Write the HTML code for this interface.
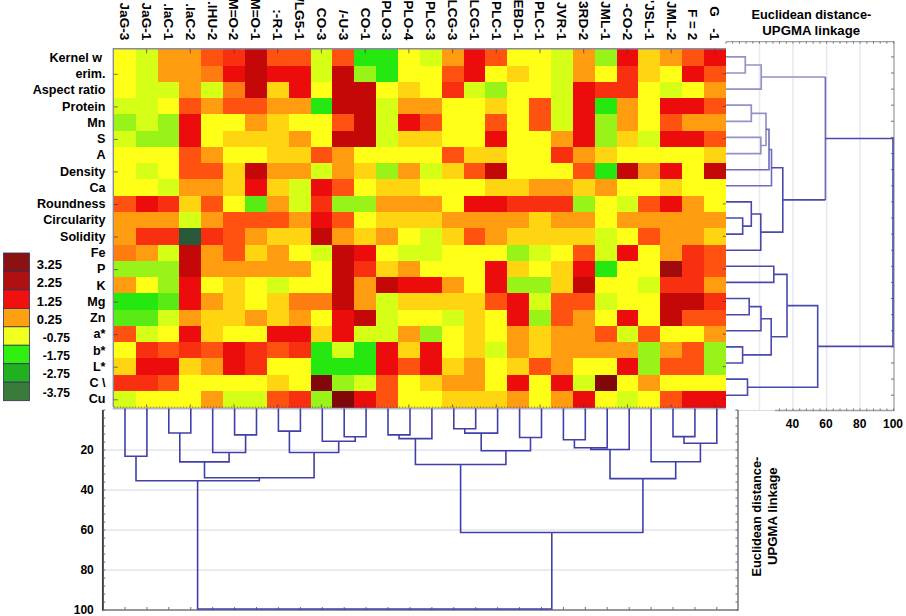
<!DOCTYPE html>
<html><head><meta charset="utf-8"><title>Heatmap</title>
<style>
html,body{margin:0;padding:0;background:#fff;}
body{width:906px;height:616px;overflow:hidden;}
svg{display:block;}
text{font-family:"Liberation Sans",sans-serif;font-weight:bold;fill:#000;}
</style></head><body>
<svg width="906" height="616" viewBox="0 0 906 616">
<rect x="0" y="0" width="906" height="616" fill="#ffffff"/>
<g shape-rendering="crispEdges">
<rect x="113.80" y="49.30" width="22.16" height="16.57" fill="#FFFF18"/><rect x="135.66" y="49.30" width="22.16" height="16.57" fill="#D6FF18"/><rect x="157.51" y="49.30" width="22.16" height="16.57" fill="#FF9C10"/><rect x="179.37" y="49.30" width="22.16" height="16.57" fill="#FF9C10"/><rect x="201.23" y="49.30" width="22.16" height="16.57" fill="#FF5210"/><rect x="223.09" y="49.30" width="22.16" height="16.57" fill="#F83010"/><rect x="244.94" y="49.30" width="22.16" height="16.57" fill="#C40808"/><rect x="266.80" y="49.30" width="22.16" height="16.57" fill="#FF5210"/><rect x="288.66" y="49.30" width="22.16" height="16.57" fill="#FF5210"/><rect x="310.51" y="49.30" width="22.16" height="16.57" fill="#D6FF18"/><rect x="332.37" y="49.30" width="22.16" height="16.57" fill="#FF5210"/><rect x="354.23" y="49.30" width="22.16" height="16.57" fill="#24E810"/><rect x="376.09" y="49.30" width="22.16" height="16.57" fill="#24E810"/><rect x="397.94" y="49.30" width="22.16" height="16.57" fill="#FFFF18"/><rect x="419.80" y="49.30" width="22.16" height="16.57" fill="#D6FF18"/><rect x="441.66" y="49.30" width="22.16" height="16.57" fill="#FF9C10"/><rect x="463.51" y="49.30" width="22.16" height="16.57" fill="#EC0C0C"/><rect x="485.37" y="49.30" width="22.16" height="16.57" fill="#FF5210"/><rect x="507.23" y="49.30" width="22.16" height="16.57" fill="#FFFF18"/><rect x="529.09" y="49.30" width="22.16" height="16.57" fill="#FFFF18"/><rect x="550.94" y="49.30" width="22.16" height="16.57" fill="#D6FF18"/><rect x="572.80" y="49.30" width="22.16" height="16.57" fill="#FF9C10"/><rect x="594.66" y="49.30" width="22.16" height="16.57" fill="#98F418"/><rect x="616.51" y="49.30" width="22.16" height="16.57" fill="#EC0C0C"/><rect x="638.37" y="49.30" width="22.16" height="16.57" fill="#FFD410"/><rect x="660.23" y="49.30" width="22.16" height="16.57" fill="#FF9C10"/><rect x="682.09" y="49.30" width="22.16" height="16.57" fill="#FF5210"/><rect x="703.94" y="49.30" width="22.16" height="16.57" fill="#EC0C0C"/>
<rect x="113.80" y="65.57" width="22.16" height="16.57" fill="#FFFF18"/><rect x="135.66" y="65.57" width="22.16" height="16.57" fill="#D6FF18"/><rect x="157.51" y="65.57" width="22.16" height="16.57" fill="#FF9C10"/><rect x="179.37" y="65.57" width="22.16" height="16.57" fill="#FF9C10"/><rect x="201.23" y="65.57" width="22.16" height="16.57" fill="#FF7C10"/><rect x="223.09" y="65.57" width="22.16" height="16.57" fill="#EC0C0C"/><rect x="244.94" y="65.57" width="22.16" height="16.57" fill="#C40808"/><rect x="266.80" y="65.57" width="22.16" height="16.57" fill="#EC0C0C"/><rect x="288.66" y="65.57" width="22.16" height="16.57" fill="#EC0C0C"/><rect x="310.51" y="65.57" width="22.16" height="16.57" fill="#D6FF18"/><rect x="332.37" y="65.57" width="22.16" height="16.57" fill="#C40808"/><rect x="354.23" y="65.57" width="22.16" height="16.57" fill="#98F418"/><rect x="376.09" y="65.57" width="22.16" height="16.57" fill="#24E810"/><rect x="397.94" y="65.57" width="22.16" height="16.57" fill="#FFFF18"/><rect x="419.80" y="65.57" width="22.16" height="16.57" fill="#FFFF18"/><rect x="441.66" y="65.57" width="22.16" height="16.57" fill="#FF5210"/><rect x="463.51" y="65.57" width="22.16" height="16.57" fill="#EC0C0C"/><rect x="485.37" y="65.57" width="22.16" height="16.57" fill="#FFFF18"/><rect x="507.23" y="65.57" width="22.16" height="16.57" fill="#FFD410"/><rect x="529.09" y="65.57" width="22.16" height="16.57" fill="#FFFF18"/><rect x="550.94" y="65.57" width="22.16" height="16.57" fill="#D6FF18"/><rect x="572.80" y="65.57" width="22.16" height="16.57" fill="#FF9C10"/><rect x="594.66" y="65.57" width="22.16" height="16.57" fill="#FFFF18"/><rect x="616.51" y="65.57" width="22.16" height="16.57" fill="#F83010"/><rect x="638.37" y="65.57" width="22.16" height="16.57" fill="#FFD410"/><rect x="660.23" y="65.57" width="22.16" height="16.57" fill="#FFFF18"/><rect x="682.09" y="65.57" width="22.16" height="16.57" fill="#EC0C0C"/><rect x="703.94" y="65.57" width="22.16" height="16.57" fill="#FF5210"/>
<rect x="113.80" y="81.85" width="22.16" height="16.57" fill="#FFFF18"/><rect x="135.66" y="81.85" width="22.16" height="16.57" fill="#D6FF18"/><rect x="157.51" y="81.85" width="22.16" height="16.57" fill="#D6FF18"/><rect x="179.37" y="81.85" width="22.16" height="16.57" fill="#FF9C10"/><rect x="201.23" y="81.85" width="22.16" height="16.57" fill="#D6FF18"/><rect x="223.09" y="81.85" width="22.16" height="16.57" fill="#FF7C10"/><rect x="244.94" y="81.85" width="22.16" height="16.57" fill="#C40808"/><rect x="266.80" y="81.85" width="22.16" height="16.57" fill="#FFD410"/><rect x="288.66" y="81.85" width="22.16" height="16.57" fill="#EC0C0C"/><rect x="310.51" y="81.85" width="22.16" height="16.57" fill="#FFFF18"/><rect x="332.37" y="81.85" width="22.16" height="16.57" fill="#C40808"/><rect x="354.23" y="81.85" width="22.16" height="16.57" fill="#C40808"/><rect x="376.09" y="81.85" width="22.16" height="16.57" fill="#FFFF18"/><rect x="397.94" y="81.85" width="22.16" height="16.57" fill="#FFD410"/><rect x="419.80" y="81.85" width="22.16" height="16.57" fill="#FFFF18"/><rect x="441.66" y="81.85" width="22.16" height="16.57" fill="#F83010"/><rect x="463.51" y="81.85" width="22.16" height="16.57" fill="#D6FF18"/><rect x="485.37" y="81.85" width="22.16" height="16.57" fill="#98F418"/><rect x="507.23" y="81.85" width="22.16" height="16.57" fill="#FFFF18"/><rect x="529.09" y="81.85" width="22.16" height="16.57" fill="#FFFF18"/><rect x="550.94" y="81.85" width="22.16" height="16.57" fill="#D6FF18"/><rect x="572.80" y="81.85" width="22.16" height="16.57" fill="#EC0C0C"/><rect x="594.66" y="81.85" width="22.16" height="16.57" fill="#F83010"/><rect x="616.51" y="81.85" width="22.16" height="16.57" fill="#F83010"/><rect x="638.37" y="81.85" width="22.16" height="16.57" fill="#FFFF18"/><rect x="660.23" y="81.85" width="22.16" height="16.57" fill="#D6FF18"/><rect x="682.09" y="81.85" width="22.16" height="16.57" fill="#FFFF18"/><rect x="703.94" y="81.85" width="22.16" height="16.57" fill="#FF9C10"/>
<rect x="113.80" y="98.12" width="22.16" height="16.57" fill="#D6FF18"/><rect x="135.66" y="98.12" width="22.16" height="16.57" fill="#D6FF18"/><rect x="157.51" y="98.12" width="22.16" height="16.57" fill="#FFFF18"/><rect x="179.37" y="98.12" width="22.16" height="16.57" fill="#FF5210"/><rect x="201.23" y="98.12" width="22.16" height="16.57" fill="#FF9C10"/><rect x="223.09" y="98.12" width="22.16" height="16.57" fill="#FF5210"/><rect x="244.94" y="98.12" width="22.16" height="16.57" fill="#FF5210"/><rect x="266.80" y="98.12" width="22.16" height="16.57" fill="#FF9C10"/><rect x="288.66" y="98.12" width="22.16" height="16.57" fill="#FF9C10"/><rect x="310.51" y="98.12" width="22.16" height="16.57" fill="#24E810"/><rect x="332.37" y="98.12" width="22.16" height="16.57" fill="#C40808"/><rect x="354.23" y="98.12" width="22.16" height="16.57" fill="#C40808"/><rect x="376.09" y="98.12" width="22.16" height="16.57" fill="#D6FF18"/><rect x="397.94" y="98.12" width="22.16" height="16.57" fill="#FF9C10"/><rect x="419.80" y="98.12" width="22.16" height="16.57" fill="#FF9C10"/><rect x="441.66" y="98.12" width="22.16" height="16.57" fill="#FFFF18"/><rect x="463.51" y="98.12" width="22.16" height="16.57" fill="#FFFF18"/><rect x="485.37" y="98.12" width="22.16" height="16.57" fill="#FFD410"/><rect x="507.23" y="98.12" width="22.16" height="16.57" fill="#FFFF18"/><rect x="529.09" y="98.12" width="22.16" height="16.57" fill="#FF5210"/><rect x="550.94" y="98.12" width="22.16" height="16.57" fill="#D6FF18"/><rect x="572.80" y="98.12" width="22.16" height="16.57" fill="#EC0C0C"/><rect x="594.66" y="98.12" width="22.16" height="16.57" fill="#24E810"/><rect x="616.51" y="98.12" width="22.16" height="16.57" fill="#FF9C10"/><rect x="638.37" y="98.12" width="22.16" height="16.57" fill="#FFFF18"/><rect x="660.23" y="98.12" width="22.16" height="16.57" fill="#EC0C0C"/><rect x="682.09" y="98.12" width="22.16" height="16.57" fill="#EC0C0C"/><rect x="703.94" y="98.12" width="22.16" height="16.57" fill="#FF5210"/>
<rect x="113.80" y="114.39" width="22.16" height="16.57" fill="#98F418"/><rect x="135.66" y="114.39" width="22.16" height="16.57" fill="#D6FF18"/><rect x="157.51" y="114.39" width="22.16" height="16.57" fill="#98F418"/><rect x="179.37" y="114.39" width="22.16" height="16.57" fill="#EC0C0C"/><rect x="201.23" y="114.39" width="22.16" height="16.57" fill="#FFFF18"/><rect x="223.09" y="114.39" width="22.16" height="16.57" fill="#FFFF18"/><rect x="244.94" y="114.39" width="22.16" height="16.57" fill="#FF9C10"/><rect x="266.80" y="114.39" width="22.16" height="16.57" fill="#FFD410"/><rect x="288.66" y="114.39" width="22.16" height="16.57" fill="#FFFF18"/><rect x="310.51" y="114.39" width="22.16" height="16.57" fill="#FFFF18"/><rect x="332.37" y="114.39" width="22.16" height="16.57" fill="#FF5210"/><rect x="354.23" y="114.39" width="22.16" height="16.57" fill="#C40808"/><rect x="376.09" y="114.39" width="22.16" height="16.57" fill="#D6FF18"/><rect x="397.94" y="114.39" width="22.16" height="16.57" fill="#EC0C0C"/><rect x="419.80" y="114.39" width="22.16" height="16.57" fill="#FF5210"/><rect x="441.66" y="114.39" width="22.16" height="16.57" fill="#FFFF18"/><rect x="463.51" y="114.39" width="22.16" height="16.57" fill="#FFFF18"/><rect x="485.37" y="114.39" width="22.16" height="16.57" fill="#FF5210"/><rect x="507.23" y="114.39" width="22.16" height="16.57" fill="#FFFF18"/><rect x="529.09" y="114.39" width="22.16" height="16.57" fill="#FF5210"/><rect x="550.94" y="114.39" width="22.16" height="16.57" fill="#D6FF18"/><rect x="572.80" y="114.39" width="22.16" height="16.57" fill="#EC0C0C"/><rect x="594.66" y="114.39" width="22.16" height="16.57" fill="#98F418"/><rect x="616.51" y="114.39" width="22.16" height="16.57" fill="#FF9C10"/><rect x="638.37" y="114.39" width="22.16" height="16.57" fill="#FFFF18"/><rect x="660.23" y="114.39" width="22.16" height="16.57" fill="#FF5210"/><rect x="682.09" y="114.39" width="22.16" height="16.57" fill="#FF9C10"/><rect x="703.94" y="114.39" width="22.16" height="16.57" fill="#FF9C10"/>
<rect x="113.80" y="130.66" width="22.16" height="16.57" fill="#D6FF18"/><rect x="135.66" y="130.66" width="22.16" height="16.57" fill="#98F418"/><rect x="157.51" y="130.66" width="22.16" height="16.57" fill="#98F418"/><rect x="179.37" y="130.66" width="22.16" height="16.57" fill="#EC0C0C"/><rect x="201.23" y="130.66" width="22.16" height="16.57" fill="#FFFF18"/><rect x="223.09" y="130.66" width="22.16" height="16.57" fill="#FFD410"/><rect x="244.94" y="130.66" width="22.16" height="16.57" fill="#FFD410"/><rect x="266.80" y="130.66" width="22.16" height="16.57" fill="#FFD410"/><rect x="288.66" y="130.66" width="22.16" height="16.57" fill="#FF9C10"/><rect x="310.51" y="130.66" width="22.16" height="16.57" fill="#FFFF18"/><rect x="332.37" y="130.66" width="22.16" height="16.57" fill="#C40808"/><rect x="354.23" y="130.66" width="22.16" height="16.57" fill="#C40808"/><rect x="376.09" y="130.66" width="22.16" height="16.57" fill="#D6FF18"/><rect x="397.94" y="130.66" width="22.16" height="16.57" fill="#FFD410"/><rect x="419.80" y="130.66" width="22.16" height="16.57" fill="#FFD410"/><rect x="441.66" y="130.66" width="22.16" height="16.57" fill="#FFFF18"/><rect x="463.51" y="130.66" width="22.16" height="16.57" fill="#FFFF18"/><rect x="485.37" y="130.66" width="22.16" height="16.57" fill="#EC0C0C"/><rect x="507.23" y="130.66" width="22.16" height="16.57" fill="#FFFF18"/><rect x="529.09" y="130.66" width="22.16" height="16.57" fill="#FFFF18"/><rect x="550.94" y="130.66" width="22.16" height="16.57" fill="#FF9C10"/><rect x="572.80" y="130.66" width="22.16" height="16.57" fill="#EC0C0C"/><rect x="594.66" y="130.66" width="22.16" height="16.57" fill="#98F418"/><rect x="616.51" y="130.66" width="22.16" height="16.57" fill="#FFD410"/><rect x="638.37" y="130.66" width="22.16" height="16.57" fill="#D6FF18"/><rect x="660.23" y="130.66" width="22.16" height="16.57" fill="#EC0C0C"/><rect x="682.09" y="130.66" width="22.16" height="16.57" fill="#EC0C0C"/><rect x="703.94" y="130.66" width="22.16" height="16.57" fill="#FF5210"/>
<rect x="113.80" y="146.94" width="22.16" height="16.57" fill="#FFFF18"/><rect x="135.66" y="146.94" width="22.16" height="16.57" fill="#FFFF18"/><rect x="157.51" y="146.94" width="22.16" height="16.57" fill="#FFFF18"/><rect x="179.37" y="146.94" width="22.16" height="16.57" fill="#FF5210"/><rect x="201.23" y="146.94" width="22.16" height="16.57" fill="#FF9C10"/><rect x="223.09" y="146.94" width="22.16" height="16.57" fill="#FFFF18"/><rect x="244.94" y="146.94" width="22.16" height="16.57" fill="#FFFF18"/><rect x="266.80" y="146.94" width="22.16" height="16.57" fill="#FFD410"/><rect x="288.66" y="146.94" width="22.16" height="16.57" fill="#FFD410"/><rect x="310.51" y="146.94" width="22.16" height="16.57" fill="#FF5210"/><rect x="332.37" y="146.94" width="22.16" height="16.57" fill="#FF9C10"/><rect x="354.23" y="146.94" width="22.16" height="16.57" fill="#FFFF18"/><rect x="376.09" y="146.94" width="22.16" height="16.57" fill="#FFFF18"/><rect x="397.94" y="146.94" width="22.16" height="16.57" fill="#FFFF18"/><rect x="419.80" y="146.94" width="22.16" height="16.57" fill="#FFFF18"/><rect x="441.66" y="146.94" width="22.16" height="16.57" fill="#FF5210"/><rect x="463.51" y="146.94" width="22.16" height="16.57" fill="#FFD410"/><rect x="485.37" y="146.94" width="22.16" height="16.57" fill="#FFD410"/><rect x="507.23" y="146.94" width="22.16" height="16.57" fill="#FFFF18"/><rect x="529.09" y="146.94" width="22.16" height="16.57" fill="#FFFF18"/><rect x="550.94" y="146.94" width="22.16" height="16.57" fill="#F83010"/><rect x="572.80" y="146.94" width="22.16" height="16.57" fill="#FF9C10"/><rect x="594.66" y="146.94" width="22.16" height="16.57" fill="#FFD410"/><rect x="616.51" y="146.94" width="22.16" height="16.57" fill="#FFFF18"/><rect x="638.37" y="146.94" width="22.16" height="16.57" fill="#FFFF18"/><rect x="660.23" y="146.94" width="22.16" height="16.57" fill="#FFFF18"/><rect x="682.09" y="146.94" width="22.16" height="16.57" fill="#FFFF18"/><rect x="703.94" y="146.94" width="22.16" height="16.57" fill="#FFD410"/>
<rect x="113.80" y="163.21" width="22.16" height="16.57" fill="#FFFF18"/><rect x="135.66" y="163.21" width="22.16" height="16.57" fill="#D6FF18"/><rect x="157.51" y="163.21" width="22.16" height="16.57" fill="#FFFF18"/><rect x="179.37" y="163.21" width="22.16" height="16.57" fill="#FF5210"/><rect x="201.23" y="163.21" width="22.16" height="16.57" fill="#FF5210"/><rect x="223.09" y="163.21" width="22.16" height="16.57" fill="#FFD410"/><rect x="244.94" y="163.21" width="22.16" height="16.57" fill="#C40808"/><rect x="266.80" y="163.21" width="22.16" height="16.57" fill="#FF9C10"/><rect x="288.66" y="163.21" width="22.16" height="16.57" fill="#FF9C10"/><rect x="310.51" y="163.21" width="22.16" height="16.57" fill="#D6FF18"/><rect x="332.37" y="163.21" width="22.16" height="16.57" fill="#FF9C10"/><rect x="354.23" y="163.21" width="22.16" height="16.57" fill="#FFD410"/><rect x="376.09" y="163.21" width="22.16" height="16.57" fill="#98F418"/><rect x="397.94" y="163.21" width="22.16" height="16.57" fill="#FF9C10"/><rect x="419.80" y="163.21" width="22.16" height="16.57" fill="#D6FF18"/><rect x="441.66" y="163.21" width="22.16" height="16.57" fill="#FFD410"/><rect x="463.51" y="163.21" width="22.16" height="16.57" fill="#FF5210"/><rect x="485.37" y="163.21" width="22.16" height="16.57" fill="#C40808"/><rect x="507.23" y="163.21" width="22.16" height="16.57" fill="#FFFF18"/><rect x="529.09" y="163.21" width="22.16" height="16.57" fill="#FFFF18"/><rect x="550.94" y="163.21" width="22.16" height="16.57" fill="#FFFF18"/><rect x="572.80" y="163.21" width="22.16" height="16.57" fill="#FF5210"/><rect x="594.66" y="163.21" width="22.16" height="16.57" fill="#24E810"/><rect x="616.51" y="163.21" width="22.16" height="16.57" fill="#C40808"/><rect x="638.37" y="163.21" width="22.16" height="16.57" fill="#FF9C10"/><rect x="660.23" y="163.21" width="22.16" height="16.57" fill="#EC0C0C"/><rect x="682.09" y="163.21" width="22.16" height="16.57" fill="#FFFF18"/><rect x="703.94" y="163.21" width="22.16" height="16.57" fill="#C40808"/>
<rect x="113.80" y="179.48" width="22.16" height="16.57" fill="#FFFF18"/><rect x="135.66" y="179.48" width="22.16" height="16.57" fill="#FFFF18"/><rect x="157.51" y="179.48" width="22.16" height="16.57" fill="#D6FF18"/><rect x="179.37" y="179.48" width="22.16" height="16.57" fill="#FF9C10"/><rect x="201.23" y="179.48" width="22.16" height="16.57" fill="#FF9C10"/><rect x="223.09" y="179.48" width="22.16" height="16.57" fill="#FFD410"/><rect x="244.94" y="179.48" width="22.16" height="16.57" fill="#EC0C0C"/><rect x="266.80" y="179.48" width="22.16" height="16.57" fill="#FFD410"/><rect x="288.66" y="179.48" width="22.16" height="16.57" fill="#D6FF18"/><rect x="310.51" y="179.48" width="22.16" height="16.57" fill="#EC0C0C"/><rect x="332.37" y="179.48" width="22.16" height="16.57" fill="#FF5210"/><rect x="354.23" y="179.48" width="22.16" height="16.57" fill="#FFFF18"/><rect x="376.09" y="179.48" width="22.16" height="16.57" fill="#FFD410"/><rect x="397.94" y="179.48" width="22.16" height="16.57" fill="#FFD410"/><rect x="419.80" y="179.48" width="22.16" height="16.57" fill="#FFFF18"/><rect x="441.66" y="179.48" width="22.16" height="16.57" fill="#FFFF18"/><rect x="463.51" y="179.48" width="22.16" height="16.57" fill="#FFFF18"/><rect x="485.37" y="179.48" width="22.16" height="16.57" fill="#FFD410"/><rect x="507.23" y="179.48" width="22.16" height="16.57" fill="#FFD410"/><rect x="529.09" y="179.48" width="22.16" height="16.57" fill="#FF9C10"/><rect x="550.94" y="179.48" width="22.16" height="16.57" fill="#FF9C10"/><rect x="572.80" y="179.48" width="22.16" height="16.57" fill="#FFD410"/><rect x="594.66" y="179.48" width="22.16" height="16.57" fill="#FF9C10"/><rect x="616.51" y="179.48" width="22.16" height="16.57" fill="#FFFF18"/><rect x="638.37" y="179.48" width="22.16" height="16.57" fill="#FFFF18"/><rect x="660.23" y="179.48" width="22.16" height="16.57" fill="#FFD410"/><rect x="682.09" y="179.48" width="22.16" height="16.57" fill="#FFFF18"/><rect x="703.94" y="179.48" width="22.16" height="16.57" fill="#FFFF18"/>
<rect x="113.80" y="195.75" width="22.16" height="16.57" fill="#FF5210"/><rect x="135.66" y="195.75" width="22.16" height="16.57" fill="#EC0C0C"/><rect x="157.51" y="195.75" width="22.16" height="16.57" fill="#F83010"/><rect x="179.37" y="195.75" width="22.16" height="16.57" fill="#FFD410"/><rect x="201.23" y="195.75" width="22.16" height="16.57" fill="#FF5210"/><rect x="223.09" y="195.75" width="22.16" height="16.57" fill="#FFFF18"/><rect x="244.94" y="195.75" width="22.16" height="16.57" fill="#58EC14"/><rect x="266.80" y="195.75" width="22.16" height="16.57" fill="#FF9C10"/><rect x="288.66" y="195.75" width="22.16" height="16.57" fill="#D6FF18"/><rect x="310.51" y="195.75" width="22.16" height="16.57" fill="#F83010"/><rect x="332.37" y="195.75" width="22.16" height="16.57" fill="#98F418"/><rect x="354.23" y="195.75" width="22.16" height="16.57" fill="#98F418"/><rect x="376.09" y="195.75" width="22.16" height="16.57" fill="#FF9C10"/><rect x="397.94" y="195.75" width="22.16" height="16.57" fill="#FF9C10"/><rect x="419.80" y="195.75" width="22.16" height="16.57" fill="#FF9C10"/><rect x="441.66" y="195.75" width="22.16" height="16.57" fill="#FFFF18"/><rect x="463.51" y="195.75" width="22.16" height="16.57" fill="#EC0C0C"/><rect x="485.37" y="195.75" width="22.16" height="16.57" fill="#EC0C0C"/><rect x="507.23" y="195.75" width="22.16" height="16.57" fill="#F83010"/><rect x="529.09" y="195.75" width="22.16" height="16.57" fill="#F83010"/><rect x="550.94" y="195.75" width="22.16" height="16.57" fill="#F83010"/><rect x="572.80" y="195.75" width="22.16" height="16.57" fill="#98F418"/><rect x="594.66" y="195.75" width="22.16" height="16.57" fill="#FFFF18"/><rect x="616.51" y="195.75" width="22.16" height="16.57" fill="#D6FF18"/><rect x="638.37" y="195.75" width="22.16" height="16.57" fill="#FF5210"/><rect x="660.23" y="195.75" width="22.16" height="16.57" fill="#EC0C0C"/><rect x="682.09" y="195.75" width="22.16" height="16.57" fill="#FF9C10"/><rect x="703.94" y="195.75" width="22.16" height="16.57" fill="#FFFF18"/>
<rect x="113.80" y="212.03" width="22.16" height="16.57" fill="#FF9C10"/><rect x="135.66" y="212.03" width="22.16" height="16.57" fill="#FF9C10"/><rect x="157.51" y="212.03" width="22.16" height="16.57" fill="#FF9C10"/><rect x="179.37" y="212.03" width="22.16" height="16.57" fill="#D6FF18"/><rect x="201.23" y="212.03" width="22.16" height="16.57" fill="#FF9C10"/><rect x="223.09" y="212.03" width="22.16" height="16.57" fill="#FF5210"/><rect x="244.94" y="212.03" width="22.16" height="16.57" fill="#FF5210"/><rect x="266.80" y="212.03" width="22.16" height="16.57" fill="#FF5210"/><rect x="288.66" y="212.03" width="22.16" height="16.57" fill="#FF9C10"/><rect x="310.51" y="212.03" width="22.16" height="16.57" fill="#EC0C0C"/><rect x="332.37" y="212.03" width="22.16" height="16.57" fill="#FF5210"/><rect x="354.23" y="212.03" width="22.16" height="16.57" fill="#FFFF18"/><rect x="376.09" y="212.03" width="22.16" height="16.57" fill="#FFD410"/><rect x="397.94" y="212.03" width="22.16" height="16.57" fill="#FFD410"/><rect x="419.80" y="212.03" width="22.16" height="16.57" fill="#FFD410"/><rect x="441.66" y="212.03" width="22.16" height="16.57" fill="#FF9C10"/><rect x="463.51" y="212.03" width="22.16" height="16.57" fill="#FF9C10"/><rect x="485.37" y="212.03" width="22.16" height="16.57" fill="#FF9C10"/><rect x="507.23" y="212.03" width="22.16" height="16.57" fill="#FF9C10"/><rect x="529.09" y="212.03" width="22.16" height="16.57" fill="#FFD410"/><rect x="550.94" y="212.03" width="22.16" height="16.57" fill="#FF9C10"/><rect x="572.80" y="212.03" width="22.16" height="16.57" fill="#FF9C10"/><rect x="594.66" y="212.03" width="22.16" height="16.57" fill="#FFFF18"/><rect x="616.51" y="212.03" width="22.16" height="16.57" fill="#FF9C10"/><rect x="638.37" y="212.03" width="22.16" height="16.57" fill="#FF9C10"/><rect x="660.23" y="212.03" width="22.16" height="16.57" fill="#FF9C10"/><rect x="682.09" y="212.03" width="22.16" height="16.57" fill="#FF9C10"/><rect x="703.94" y="212.03" width="22.16" height="16.57" fill="#FF9C10"/>
<rect x="113.80" y="228.30" width="22.16" height="16.57" fill="#FF9C10"/><rect x="135.66" y="228.30" width="22.16" height="16.57" fill="#F83010"/><rect x="157.51" y="228.30" width="22.16" height="16.57" fill="#F83010"/><rect x="179.37" y="228.30" width="22.16" height="16.57" fill="#285838"/><rect x="201.23" y="228.30" width="22.16" height="16.57" fill="#F83010"/><rect x="223.09" y="228.30" width="22.16" height="16.57" fill="#FF5210"/><rect x="244.94" y="228.30" width="22.16" height="16.57" fill="#FF9C10"/><rect x="266.80" y="228.30" width="22.16" height="16.57" fill="#FFD410"/><rect x="288.66" y="228.30" width="22.16" height="16.57" fill="#FFD410"/><rect x="310.51" y="228.30" width="22.16" height="16.57" fill="#C40808"/><rect x="332.37" y="228.30" width="22.16" height="16.57" fill="#FF9C10"/><rect x="354.23" y="228.30" width="22.16" height="16.57" fill="#FFD410"/><rect x="376.09" y="228.30" width="22.16" height="16.57" fill="#FF9C10"/><rect x="397.94" y="228.30" width="22.16" height="16.57" fill="#FFFF18"/><rect x="419.80" y="228.30" width="22.16" height="16.57" fill="#D6FF18"/><rect x="441.66" y="228.30" width="22.16" height="16.57" fill="#FFD410"/><rect x="463.51" y="228.30" width="22.16" height="16.57" fill="#FF5210"/><rect x="485.37" y="228.30" width="22.16" height="16.57" fill="#FF9C10"/><rect x="507.23" y="228.30" width="22.16" height="16.57" fill="#FFD410"/><rect x="529.09" y="228.30" width="22.16" height="16.57" fill="#FFD410"/><rect x="550.94" y="228.30" width="22.16" height="16.57" fill="#FFD410"/><rect x="572.80" y="228.30" width="22.16" height="16.57" fill="#FFD410"/><rect x="594.66" y="228.30" width="22.16" height="16.57" fill="#D6FF18"/><rect x="616.51" y="228.30" width="22.16" height="16.57" fill="#FFFF18"/><rect x="638.37" y="228.30" width="22.16" height="16.57" fill="#FF5210"/><rect x="660.23" y="228.30" width="22.16" height="16.57" fill="#FF9C10"/><rect x="682.09" y="228.30" width="22.16" height="16.57" fill="#FF9C10"/><rect x="703.94" y="228.30" width="22.16" height="16.57" fill="#FFD410"/>
<rect x="113.80" y="244.57" width="22.16" height="16.57" fill="#FF7C10"/><rect x="135.66" y="244.57" width="22.16" height="16.57" fill="#FF9C10"/><rect x="157.51" y="244.57" width="22.16" height="16.57" fill="#D6FF18"/><rect x="179.37" y="244.57" width="22.16" height="16.57" fill="#C40808"/><rect x="201.23" y="244.57" width="22.16" height="16.57" fill="#FF9C10"/><rect x="223.09" y="244.57" width="22.16" height="16.57" fill="#FF5210"/><rect x="244.94" y="244.57" width="22.16" height="16.57" fill="#FFD410"/><rect x="266.80" y="244.57" width="22.16" height="16.57" fill="#FF9C10"/><rect x="288.66" y="244.57" width="22.16" height="16.57" fill="#FFFF18"/><rect x="310.51" y="244.57" width="22.16" height="16.57" fill="#D6FF18"/><rect x="332.37" y="244.57" width="22.16" height="16.57" fill="#C40808"/><rect x="354.23" y="244.57" width="22.16" height="16.57" fill="#EC0C0C"/><rect x="376.09" y="244.57" width="22.16" height="16.57" fill="#FFFF18"/><rect x="397.94" y="244.57" width="22.16" height="16.57" fill="#D6FF18"/><rect x="419.80" y="244.57" width="22.16" height="16.57" fill="#D6FF18"/><rect x="441.66" y="244.57" width="22.16" height="16.57" fill="#FFFF18"/><rect x="463.51" y="244.57" width="22.16" height="16.57" fill="#FFFF18"/><rect x="485.37" y="244.57" width="22.16" height="16.57" fill="#FFFF18"/><rect x="507.23" y="244.57" width="22.16" height="16.57" fill="#98F418"/><rect x="529.09" y="244.57" width="22.16" height="16.57" fill="#D6FF18"/><rect x="550.94" y="244.57" width="22.16" height="16.57" fill="#FFFF18"/><rect x="572.80" y="244.57" width="22.16" height="16.57" fill="#FF5210"/><rect x="594.66" y="244.57" width="22.16" height="16.57" fill="#D6FF18"/><rect x="616.51" y="244.57" width="22.16" height="16.57" fill="#EC0C0C"/><rect x="638.37" y="244.57" width="22.16" height="16.57" fill="#FFFF18"/><rect x="660.23" y="244.57" width="22.16" height="16.57" fill="#FF9C10"/><rect x="682.09" y="244.57" width="22.16" height="16.57" fill="#F83010"/><rect x="703.94" y="244.57" width="22.16" height="16.57" fill="#FF5210"/>
<rect x="113.80" y="260.85" width="22.16" height="16.57" fill="#98F418"/><rect x="135.66" y="260.85" width="22.16" height="16.57" fill="#98F418"/><rect x="157.51" y="260.85" width="22.16" height="16.57" fill="#98F418"/><rect x="179.37" y="260.85" width="22.16" height="16.57" fill="#C40808"/><rect x="201.23" y="260.85" width="22.16" height="16.57" fill="#FF9C10"/><rect x="223.09" y="260.85" width="22.16" height="16.57" fill="#FF9C10"/><rect x="244.94" y="260.85" width="22.16" height="16.57" fill="#FF9C10"/><rect x="266.80" y="260.85" width="22.16" height="16.57" fill="#FF9C10"/><rect x="288.66" y="260.85" width="22.16" height="16.57" fill="#FF9C10"/><rect x="310.51" y="260.85" width="22.16" height="16.57" fill="#FFFF18"/><rect x="332.37" y="260.85" width="22.16" height="16.57" fill="#C40808"/><rect x="354.23" y="260.85" width="22.16" height="16.57" fill="#F83010"/><rect x="376.09" y="260.85" width="22.16" height="16.57" fill="#FFD410"/><rect x="397.94" y="260.85" width="22.16" height="16.57" fill="#FF9C10"/><rect x="419.80" y="260.85" width="22.16" height="16.57" fill="#FFFF18"/><rect x="441.66" y="260.85" width="22.16" height="16.57" fill="#FFFF18"/><rect x="463.51" y="260.85" width="22.16" height="16.57" fill="#FFFF18"/><rect x="485.37" y="260.85" width="22.16" height="16.57" fill="#EC0C0C"/><rect x="507.23" y="260.85" width="22.16" height="16.57" fill="#FFD410"/><rect x="529.09" y="260.85" width="22.16" height="16.57" fill="#FFFF18"/><rect x="550.94" y="260.85" width="22.16" height="16.57" fill="#FFD410"/><rect x="572.80" y="260.85" width="22.16" height="16.57" fill="#EC0C0C"/><rect x="594.66" y="260.85" width="22.16" height="16.57" fill="#24E810"/><rect x="616.51" y="260.85" width="22.16" height="16.57" fill="#FFFF18"/><rect x="638.37" y="260.85" width="22.16" height="16.57" fill="#FFFF18"/><rect x="660.23" y="260.85" width="22.16" height="16.57" fill="#A00C0C"/><rect x="682.09" y="260.85" width="22.16" height="16.57" fill="#F83010"/><rect x="703.94" y="260.85" width="22.16" height="16.57" fill="#FF5210"/>
<rect x="113.80" y="277.12" width="22.16" height="16.57" fill="#FF9C10"/><rect x="135.66" y="277.12" width="22.16" height="16.57" fill="#FFFF18"/><rect x="157.51" y="277.12" width="22.16" height="16.57" fill="#98F418"/><rect x="179.37" y="277.12" width="22.16" height="16.57" fill="#EC0C0C"/><rect x="201.23" y="277.12" width="22.16" height="16.57" fill="#FFFF18"/><rect x="223.09" y="277.12" width="22.16" height="16.57" fill="#FFD410"/><rect x="244.94" y="277.12" width="22.16" height="16.57" fill="#FFFF18"/><rect x="266.80" y="277.12" width="22.16" height="16.57" fill="#D6FF18"/><rect x="288.66" y="277.12" width="22.16" height="16.57" fill="#FFFF18"/><rect x="310.51" y="277.12" width="22.16" height="16.57" fill="#FFFF18"/><rect x="332.37" y="277.12" width="22.16" height="16.57" fill="#C40808"/><rect x="354.23" y="277.12" width="22.16" height="16.57" fill="#FF9C10"/><rect x="376.09" y="277.12" width="22.16" height="16.57" fill="#C40808"/><rect x="397.94" y="277.12" width="22.16" height="16.57" fill="#EC0C0C"/><rect x="419.80" y="277.12" width="22.16" height="16.57" fill="#EC0C0C"/><rect x="441.66" y="277.12" width="22.16" height="16.57" fill="#FF9C10"/><rect x="463.51" y="277.12" width="22.16" height="16.57" fill="#FFFF18"/><rect x="485.37" y="277.12" width="22.16" height="16.57" fill="#EC0C0C"/><rect x="507.23" y="277.12" width="22.16" height="16.57" fill="#98F418"/><rect x="529.09" y="277.12" width="22.16" height="16.57" fill="#98F418"/><rect x="550.94" y="277.12" width="22.16" height="16.57" fill="#FFD410"/><rect x="572.80" y="277.12" width="22.16" height="16.57" fill="#C40808"/><rect x="594.66" y="277.12" width="22.16" height="16.57" fill="#FFFF18"/><rect x="616.51" y="277.12" width="22.16" height="16.57" fill="#FFFF18"/><rect x="638.37" y="277.12" width="22.16" height="16.57" fill="#D6FF18"/><rect x="660.23" y="277.12" width="22.16" height="16.57" fill="#F83010"/><rect x="682.09" y="277.12" width="22.16" height="16.57" fill="#F83010"/><rect x="703.94" y="277.12" width="22.16" height="16.57" fill="#FF9C10"/>
<rect x="113.80" y="293.39" width="22.16" height="16.57" fill="#24E810"/><rect x="135.66" y="293.39" width="22.16" height="16.57" fill="#24E810"/><rect x="157.51" y="293.39" width="22.16" height="16.57" fill="#58EC14"/><rect x="179.37" y="293.39" width="22.16" height="16.57" fill="#EC0C0C"/><rect x="201.23" y="293.39" width="22.16" height="16.57" fill="#FF9C10"/><rect x="223.09" y="293.39" width="22.16" height="16.57" fill="#FFD410"/><rect x="244.94" y="293.39" width="22.16" height="16.57" fill="#FFFF18"/><rect x="266.80" y="293.39" width="22.16" height="16.57" fill="#FFD410"/><rect x="288.66" y="293.39" width="22.16" height="16.57" fill="#FF7C10"/><rect x="310.51" y="293.39" width="22.16" height="16.57" fill="#FF7C10"/><rect x="332.37" y="293.39" width="22.16" height="16.57" fill="#C40808"/><rect x="354.23" y="293.39" width="22.16" height="16.57" fill="#FF9C10"/><rect x="376.09" y="293.39" width="22.16" height="16.57" fill="#D6FF18"/><rect x="397.94" y="293.39" width="22.16" height="16.57" fill="#FFD410"/><rect x="419.80" y="293.39" width="22.16" height="16.57" fill="#FFD410"/><rect x="441.66" y="293.39" width="22.16" height="16.57" fill="#FFD410"/><rect x="463.51" y="293.39" width="22.16" height="16.57" fill="#FFD410"/><rect x="485.37" y="293.39" width="22.16" height="16.57" fill="#FF5210"/><rect x="507.23" y="293.39" width="22.16" height="16.57" fill="#EC0C0C"/><rect x="529.09" y="293.39" width="22.16" height="16.57" fill="#D6FF18"/><rect x="550.94" y="293.39" width="22.16" height="16.57" fill="#FF5210"/><rect x="572.80" y="293.39" width="22.16" height="16.57" fill="#FF5210"/><rect x="594.66" y="293.39" width="22.16" height="16.57" fill="#D6FF18"/><rect x="616.51" y="293.39" width="22.16" height="16.57" fill="#FFFF18"/><rect x="638.37" y="293.39" width="22.16" height="16.57" fill="#FFFF18"/><rect x="660.23" y="293.39" width="22.16" height="16.57" fill="#C40808"/><rect x="682.09" y="293.39" width="22.16" height="16.57" fill="#C40808"/><rect x="703.94" y="293.39" width="22.16" height="16.57" fill="#F83010"/>
<rect x="113.80" y="309.66" width="22.16" height="16.57" fill="#58EC14"/><rect x="135.66" y="309.66" width="22.16" height="16.57" fill="#58EC14"/><rect x="157.51" y="309.66" width="22.16" height="16.57" fill="#D6FF18"/><rect x="179.37" y="309.66" width="22.16" height="16.57" fill="#FF9C10"/><rect x="201.23" y="309.66" width="22.16" height="16.57" fill="#FFD410"/><rect x="223.09" y="309.66" width="22.16" height="16.57" fill="#FFD410"/><rect x="244.94" y="309.66" width="22.16" height="16.57" fill="#FF9C10"/><rect x="266.80" y="309.66" width="22.16" height="16.57" fill="#FFD410"/><rect x="288.66" y="309.66" width="22.16" height="16.57" fill="#FF9C10"/><rect x="310.51" y="309.66" width="22.16" height="16.57" fill="#FFFF18"/><rect x="332.37" y="309.66" width="22.16" height="16.57" fill="#EC0C0C"/><rect x="354.23" y="309.66" width="22.16" height="16.57" fill="#C40808"/><rect x="376.09" y="309.66" width="22.16" height="16.57" fill="#D6FF18"/><rect x="397.94" y="309.66" width="22.16" height="16.57" fill="#FFFF18"/><rect x="419.80" y="309.66" width="22.16" height="16.57" fill="#FFFF18"/><rect x="441.66" y="309.66" width="22.16" height="16.57" fill="#D6FF18"/><rect x="463.51" y="309.66" width="22.16" height="16.57" fill="#FFD410"/><rect x="485.37" y="309.66" width="22.16" height="16.57" fill="#FFFF18"/><rect x="507.23" y="309.66" width="22.16" height="16.57" fill="#EC0C0C"/><rect x="529.09" y="309.66" width="22.16" height="16.57" fill="#98F418"/><rect x="550.94" y="309.66" width="22.16" height="16.57" fill="#FF5210"/><rect x="572.80" y="309.66" width="22.16" height="16.57" fill="#FF9C10"/><rect x="594.66" y="309.66" width="22.16" height="16.57" fill="#FFFF18"/><rect x="616.51" y="309.66" width="22.16" height="16.57" fill="#EC0C0C"/><rect x="638.37" y="309.66" width="22.16" height="16.57" fill="#FFFF18"/><rect x="660.23" y="309.66" width="22.16" height="16.57" fill="#C40808"/><rect x="682.09" y="309.66" width="22.16" height="16.57" fill="#FF5210"/><rect x="703.94" y="309.66" width="22.16" height="16.57" fill="#FF5210"/>
<rect x="113.80" y="325.94" width="22.16" height="16.57" fill="#FF5210"/><rect x="135.66" y="325.94" width="22.16" height="16.57" fill="#D6FF18"/><rect x="157.51" y="325.94" width="22.16" height="16.57" fill="#FFFF18"/><rect x="179.37" y="325.94" width="22.16" height="16.57" fill="#EC0C0C"/><rect x="201.23" y="325.94" width="22.16" height="16.57" fill="#FFD410"/><rect x="223.09" y="325.94" width="22.16" height="16.57" fill="#FFFF18"/><rect x="244.94" y="325.94" width="22.16" height="16.57" fill="#FFFF18"/><rect x="266.80" y="325.94" width="22.16" height="16.57" fill="#EC0C0C"/><rect x="288.66" y="325.94" width="22.16" height="16.57" fill="#EC0C0C"/><rect x="310.51" y="325.94" width="22.16" height="16.57" fill="#FFD410"/><rect x="332.37" y="325.94" width="22.16" height="16.57" fill="#EC0C0C"/><rect x="354.23" y="325.94" width="22.16" height="16.57" fill="#D6FF18"/><rect x="376.09" y="325.94" width="22.16" height="16.57" fill="#D6FF18"/><rect x="397.94" y="325.94" width="22.16" height="16.57" fill="#FF9C10"/><rect x="419.80" y="325.94" width="22.16" height="16.57" fill="#98F418"/><rect x="441.66" y="325.94" width="22.16" height="16.57" fill="#FFFF18"/><rect x="463.51" y="325.94" width="22.16" height="16.57" fill="#FFD410"/><rect x="485.37" y="325.94" width="22.16" height="16.57" fill="#FFFF18"/><rect x="507.23" y="325.94" width="22.16" height="16.57" fill="#FF9C10"/><rect x="529.09" y="325.94" width="22.16" height="16.57" fill="#FFD410"/><rect x="550.94" y="325.94" width="22.16" height="16.57" fill="#FF9C10"/><rect x="572.80" y="325.94" width="22.16" height="16.57" fill="#FF9C10"/><rect x="594.66" y="325.94" width="22.16" height="16.57" fill="#FF5210"/><rect x="616.51" y="325.94" width="22.16" height="16.57" fill="#D6FF18"/><rect x="638.37" y="325.94" width="22.16" height="16.57" fill="#FF5210"/><rect x="660.23" y="325.94" width="22.16" height="16.57" fill="#FFFF18"/><rect x="682.09" y="325.94" width="22.16" height="16.57" fill="#FFFF18"/><rect x="703.94" y="325.94" width="22.16" height="16.57" fill="#FF9C10"/>
<rect x="113.80" y="342.21" width="22.16" height="16.57" fill="#FFFF18"/><rect x="135.66" y="342.21" width="22.16" height="16.57" fill="#F83010"/><rect x="157.51" y="342.21" width="22.16" height="16.57" fill="#FF5210"/><rect x="179.37" y="342.21" width="22.16" height="16.57" fill="#F83010"/><rect x="201.23" y="342.21" width="22.16" height="16.57" fill="#FF5210"/><rect x="223.09" y="342.21" width="22.16" height="16.57" fill="#EC0C0C"/><rect x="244.94" y="342.21" width="22.16" height="16.57" fill="#F83010"/><rect x="266.80" y="342.21" width="22.16" height="16.57" fill="#FF5210"/><rect x="288.66" y="342.21" width="22.16" height="16.57" fill="#F83010"/><rect x="310.51" y="342.21" width="22.16" height="16.57" fill="#24E810"/><rect x="332.37" y="342.21" width="22.16" height="16.57" fill="#D6FF18"/><rect x="354.23" y="342.21" width="22.16" height="16.57" fill="#24E810"/><rect x="376.09" y="342.21" width="22.16" height="16.57" fill="#EC0C0C"/><rect x="397.94" y="342.21" width="22.16" height="16.57" fill="#FFD410"/><rect x="419.80" y="342.21" width="22.16" height="16.57" fill="#EC0C0C"/><rect x="441.66" y="342.21" width="22.16" height="16.57" fill="#FFFF18"/><rect x="463.51" y="342.21" width="22.16" height="16.57" fill="#FFD410"/><rect x="485.37" y="342.21" width="22.16" height="16.57" fill="#D6FF18"/><rect x="507.23" y="342.21" width="22.16" height="16.57" fill="#FF9C10"/><rect x="529.09" y="342.21" width="22.16" height="16.57" fill="#FFD410"/><rect x="550.94" y="342.21" width="22.16" height="16.57" fill="#FF9C10"/><rect x="572.80" y="342.21" width="22.16" height="16.57" fill="#FF9C10"/><rect x="594.66" y="342.21" width="22.16" height="16.57" fill="#FF9C10"/><rect x="616.51" y="342.21" width="22.16" height="16.57" fill="#FF9C10"/><rect x="638.37" y="342.21" width="22.16" height="16.57" fill="#98F418"/><rect x="660.23" y="342.21" width="22.16" height="16.57" fill="#FF9C10"/><rect x="682.09" y="342.21" width="22.16" height="16.57" fill="#FF5210"/><rect x="703.94" y="342.21" width="22.16" height="16.57" fill="#98F418"/>
<rect x="113.80" y="358.48" width="22.16" height="16.57" fill="#FFD410"/><rect x="135.66" y="358.48" width="22.16" height="16.57" fill="#EC0C0C"/><rect x="157.51" y="358.48" width="22.16" height="16.57" fill="#EC0C0C"/><rect x="179.37" y="358.48" width="22.16" height="16.57" fill="#FFD410"/><rect x="201.23" y="358.48" width="22.16" height="16.57" fill="#FF9C10"/><rect x="223.09" y="358.48" width="22.16" height="16.57" fill="#EC0C0C"/><rect x="244.94" y="358.48" width="22.16" height="16.57" fill="#F83010"/><rect x="266.80" y="358.48" width="22.16" height="16.57" fill="#FFFF18"/><rect x="288.66" y="358.48" width="22.16" height="16.57" fill="#FFFF18"/><rect x="310.51" y="358.48" width="22.16" height="16.57" fill="#24E810"/><rect x="332.37" y="358.48" width="22.16" height="16.57" fill="#24E810"/><rect x="354.23" y="358.48" width="22.16" height="16.57" fill="#24E810"/><rect x="376.09" y="358.48" width="22.16" height="16.57" fill="#EC0C0C"/><rect x="397.94" y="358.48" width="22.16" height="16.57" fill="#FF5210"/><rect x="419.80" y="358.48" width="22.16" height="16.57" fill="#EC0C0C"/><rect x="441.66" y="358.48" width="22.16" height="16.57" fill="#FFD410"/><rect x="463.51" y="358.48" width="22.16" height="16.57" fill="#FF9C10"/><rect x="485.37" y="358.48" width="22.16" height="16.57" fill="#FFFF18"/><rect x="507.23" y="358.48" width="22.16" height="16.57" fill="#FFD410"/><rect x="529.09" y="358.48" width="22.16" height="16.57" fill="#FF5210"/><rect x="550.94" y="358.48" width="22.16" height="16.57" fill="#FF9C10"/><rect x="572.80" y="358.48" width="22.16" height="16.57" fill="#FFFF18"/><rect x="594.66" y="358.48" width="22.16" height="16.57" fill="#FFFF18"/><rect x="616.51" y="358.48" width="22.16" height="16.57" fill="#EC0C0C"/><rect x="638.37" y="358.48" width="22.16" height="16.57" fill="#98F418"/><rect x="660.23" y="358.48" width="22.16" height="16.57" fill="#FF5210"/><rect x="682.09" y="358.48" width="22.16" height="16.57" fill="#FF5210"/><rect x="703.94" y="358.48" width="22.16" height="16.57" fill="#98F418"/>
<rect x="113.80" y="374.75" width="22.16" height="16.57" fill="#F83010"/><rect x="135.66" y="374.75" width="22.16" height="16.57" fill="#F83010"/><rect x="157.51" y="374.75" width="22.16" height="16.57" fill="#FF5210"/><rect x="179.37" y="374.75" width="22.16" height="16.57" fill="#FFFF18"/><rect x="201.23" y="374.75" width="22.16" height="16.57" fill="#FFFF18"/><rect x="223.09" y="374.75" width="22.16" height="16.57" fill="#FFFF18"/><rect x="244.94" y="374.75" width="22.16" height="16.57" fill="#FFFF18"/><rect x="266.80" y="374.75" width="22.16" height="16.57" fill="#FFD410"/><rect x="288.66" y="374.75" width="22.16" height="16.57" fill="#FFFF18"/><rect x="310.51" y="374.75" width="22.16" height="16.57" fill="#800808"/><rect x="332.37" y="374.75" width="22.16" height="16.57" fill="#98F418"/><rect x="354.23" y="374.75" width="22.16" height="16.57" fill="#D6FF18"/><rect x="376.09" y="374.75" width="22.16" height="16.57" fill="#FF5210"/><rect x="397.94" y="374.75" width="22.16" height="16.57" fill="#FFFF18"/><rect x="419.80" y="374.75" width="22.16" height="16.57" fill="#FFD410"/><rect x="441.66" y="374.75" width="22.16" height="16.57" fill="#FF9C10"/><rect x="463.51" y="374.75" width="22.16" height="16.57" fill="#FF9C10"/><rect x="485.37" y="374.75" width="22.16" height="16.57" fill="#FFFF18"/><rect x="507.23" y="374.75" width="22.16" height="16.57" fill="#EC0C0C"/><rect x="529.09" y="374.75" width="22.16" height="16.57" fill="#FFFF18"/><rect x="550.94" y="374.75" width="22.16" height="16.57" fill="#EC0C0C"/><rect x="572.80" y="374.75" width="22.16" height="16.57" fill="#D6FF18"/><rect x="594.66" y="374.75" width="22.16" height="16.57" fill="#800808"/><rect x="616.51" y="374.75" width="22.16" height="16.57" fill="#FFFF18"/><rect x="638.37" y="374.75" width="22.16" height="16.57" fill="#FF9C10"/><rect x="660.23" y="374.75" width="22.16" height="16.57" fill="#FFFF18"/><rect x="682.09" y="374.75" width="22.16" height="16.57" fill="#FFFF18"/><rect x="703.94" y="374.75" width="22.16" height="16.57" fill="#FFFF18"/>
<rect x="113.80" y="391.03" width="22.16" height="16.57" fill="#D6FF18"/><rect x="135.66" y="391.03" width="22.16" height="16.57" fill="#FFFF18"/><rect x="157.51" y="391.03" width="22.16" height="16.57" fill="#FFFF18"/><rect x="179.37" y="391.03" width="22.16" height="16.57" fill="#FFFF18"/><rect x="201.23" y="391.03" width="22.16" height="16.57" fill="#FF9C10"/><rect x="223.09" y="391.03" width="22.16" height="16.57" fill="#D6FF18"/><rect x="244.94" y="391.03" width="22.16" height="16.57" fill="#D6FF18"/><rect x="266.80" y="391.03" width="22.16" height="16.57" fill="#FF5210"/><rect x="288.66" y="391.03" width="22.16" height="16.57" fill="#F83010"/><rect x="310.51" y="391.03" width="22.16" height="16.57" fill="#98F418"/><rect x="332.37" y="391.03" width="22.16" height="16.57" fill="#800808"/><rect x="354.23" y="391.03" width="22.16" height="16.57" fill="#EC0C0C"/><rect x="376.09" y="391.03" width="22.16" height="16.57" fill="#FF5210"/><rect x="397.94" y="391.03" width="22.16" height="16.57" fill="#FFFF18"/><rect x="419.80" y="391.03" width="22.16" height="16.57" fill="#FFFF18"/><rect x="441.66" y="391.03" width="22.16" height="16.57" fill="#FFD410"/><rect x="463.51" y="391.03" width="22.16" height="16.57" fill="#FFD410"/><rect x="485.37" y="391.03" width="22.16" height="16.57" fill="#FFD410"/><rect x="507.23" y="391.03" width="22.16" height="16.57" fill="#FF9C10"/><rect x="529.09" y="391.03" width="22.16" height="16.57" fill="#FFFF18"/><rect x="550.94" y="391.03" width="22.16" height="16.57" fill="#FF9C10"/><rect x="572.80" y="391.03" width="22.16" height="16.57" fill="#EC0C0C"/><rect x="594.66" y="391.03" width="22.16" height="16.57" fill="#FFFF18"/><rect x="616.51" y="391.03" width="22.16" height="16.57" fill="#D6FF18"/><rect x="638.37" y="391.03" width="22.16" height="16.57" fill="#FFFF18"/><rect x="660.23" y="391.03" width="22.16" height="16.57" fill="#FF5210"/><rect x="682.09" y="391.03" width="22.16" height="16.57" fill="#EC0C0C"/><rect x="703.94" y="391.03" width="22.16" height="16.57" fill="#EC0C0C"/>
</g>
<path d="M113.3 407.3 V48.8 H725.8" fill="none" stroke="#8a8aa0" stroke-width="1.4"/>
<line x1="112.8" y1="408.6" x2="725.8" y2="408.6" stroke="#b4b4c6" stroke-width="1.8"/>
<line x1="113.8" y1="407.2" x2="725.8" y2="407.2" stroke="#402060" stroke-width="1" stroke-dasharray="1.5 1.5" opacity="0.6"/>
<path d="M113.8 74.3 h4 M113.8 106.9 h4 M113.8 139.4 h4 M113.8 171.9 h4 M113.8 204.5 h4 M113.8 237.0 h4 M113.8 269.6 h4 M113.8 302.1 h4 M113.8 334.7 h4 M113.8 367.2 h4 M113.8 399.8 h4 M146.6 49.3 v4 M146.6 407.3 v-3 M190.3 49.3 v4 M190.3 407.3 v-3 M234.0 49.3 v4 M234.0 407.3 v-3 M277.7 49.3 v4 M277.7 407.3 v-3 M321.4 49.3 v4 M321.4 407.3 v-3 M365.2 49.3 v4 M365.2 407.3 v-3 M408.9 49.3 v4 M408.9 407.3 v-3 M452.6 49.3 v4 M452.6 407.3 v-3 M496.3 49.3 v4 M496.3 407.3 v-3 M540.0 49.3 v4 M540.0 407.3 v-3 M583.7 49.3 v4 M583.7 407.3 v-3 M627.4 49.3 v4 M627.4 407.3 v-3 M671.2 49.3 v4 M671.2 407.3 v-3 M714.9 49.3 v4 M714.9 407.3 v-3 M725.8 73.7 h-3 M725.8 106.3 h-3 M725.8 138.8 h-3 M725.8 171.3 h-3 M725.8 203.9 h-3 M725.8 236.4 h-3 M725.8 269.0 h-3 M725.8 301.5 h-3 M725.8 334.1 h-3 M725.8 366.6 h-3 M725.8 399.2 h-3" stroke="#503030" stroke-width="1" fill="none" opacity="0.7"/>
<text x="102" y="61.6" font-size="12.6" text-anchor="end">Kernel w</text>
<text x="105.5" y="77.9" font-size="12.6" text-anchor="end">erim.</text>
<text x="105.5" y="94.2" font-size="12.6" text-anchor="end">Aspect ratio</text>
<text x="105.5" y="110.5" font-size="12.6" text-anchor="end">Protein</text>
<text x="105.5" y="126.7" font-size="12.6" text-anchor="end">Mn</text>
<text x="105.5" y="143.0" font-size="12.6" text-anchor="end">S</text>
<text x="105.5" y="159.3" font-size="12.6" text-anchor="end">A</text>
<text x="105.5" y="175.5" font-size="12.6" text-anchor="end">Density</text>
<text x="105.5" y="191.8" font-size="12.6" text-anchor="end">Ca</text>
<text x="105.5" y="208.1" font-size="12.6" text-anchor="end">Roundness</text>
<text x="105.5" y="224.4" font-size="12.6" text-anchor="end">Circularity</text>
<text x="105.5" y="240.6" font-size="12.6" text-anchor="end">Solidity</text>
<text x="105.5" y="256.9" font-size="12.6" text-anchor="end">Fe</text>
<text x="105.5" y="273.2" font-size="12.6" text-anchor="end">P</text>
<text x="105.5" y="289.5" font-size="12.6" text-anchor="end">K</text>
<text x="105.5" y="305.7" font-size="12.6" text-anchor="end">Mg</text>
<text x="105.5" y="322.0" font-size="12.6" text-anchor="end">Zn</text>
<text x="105.5" y="338.3" font-size="12.6" text-anchor="end">a*</text>
<text x="105.5" y="354.5" font-size="12.6" text-anchor="end">b*</text>
<text x="105.5" y="370.8" font-size="12.6" text-anchor="end">L*</text>
<text x="105.5" y="387.1" font-size="12.6" text-anchor="end">C \</text>
<text x="105.5" y="403.4" font-size="12.6" text-anchor="end">Cu</text>
<text transform="translate(120.0,40.3) rotate(90)" font-size="13.6" text-anchor="end">JaG-3</text>
<text transform="translate(141.9,40.3) rotate(90)" font-size="13.6" text-anchor="end">JaG-1</text>
<text transform="translate(163.7,40.3) rotate(90)" font-size="13.6" text-anchor="end">.IaC-1</text>
<text transform="translate(185.6,40.3) rotate(90)" font-size="13.6" text-anchor="end">.IaC-2</text>
<text transform="translate(207.5,40.3) rotate(90)" font-size="13.6" text-anchor="end">.IHU-2</text>
<text transform="translate(229.3,40.3) rotate(90)" font-size="13.6" text-anchor="end">M=O-2</text>
<text transform="translate(251.2,40.3) rotate(90)" font-size="13.6" text-anchor="end">M=O-1</text>
<text transform="translate(273.0,40.3) rotate(90)" font-size="13.6" text-anchor="end">:-R-1</text>
<text transform="translate(294.9,40.3) rotate(90)" font-size="13.6" text-anchor="end">/LG5-1</text>
<text transform="translate(316.7,40.3) rotate(90)" font-size="13.6" text-anchor="end">CO-3</text>
<text transform="translate(338.6,40.3) rotate(90)" font-size="13.6" text-anchor="end">/-U-3</text>
<text transform="translate(360.5,40.3) rotate(90)" font-size="13.6" text-anchor="end">CO-1</text>
<text transform="translate(382.3,40.3) rotate(90)" font-size="13.6" text-anchor="end">PLO-3</text>
<text transform="translate(404.2,40.3) rotate(90)" font-size="13.6" text-anchor="end">PLO-4</text>
<text transform="translate(426.0,40.3) rotate(90)" font-size="13.6" text-anchor="end">PLC-3</text>
<text transform="translate(447.9,40.3) rotate(90)" font-size="13.6" text-anchor="end">/LCG-3</text>
<text transform="translate(469.7,40.3) rotate(90)" font-size="13.6" text-anchor="end">/LCG-1</text>
<text transform="translate(491.6,40.3) rotate(90)" font-size="13.6" text-anchor="end">PLC-1</text>
<text transform="translate(513.5,40.3) rotate(90)" font-size="13.6" text-anchor="end">EBD-1</text>
<text transform="translate(535.3,40.3) rotate(90)" font-size="13.6" text-anchor="end">PLC-1</text>
<text transform="translate(557.2,40.3) rotate(90)" font-size="13.6" text-anchor="end">JVR-1</text>
<text transform="translate(579.0,40.3) rotate(90)" font-size="13.6" text-anchor="end">3RD-2</text>
<text transform="translate(600.9,40.3) rotate(90)" font-size="13.6" text-anchor="end">iJML-1</text>
<text transform="translate(622.7,40.3) rotate(90)" font-size="13.6" text-anchor="end">-CO-2</text>
<text transform="translate(644.6,40.3) rotate(90)" font-size="13.6" text-anchor="end">'JSL-1</text>
<text transform="translate(666.5,40.3) rotate(90)" font-size="13.6" text-anchor="end">iJML-2</text>
<text transform="translate(688.3,40.3) rotate(90)" font-size="13.6" text-anchor="end">F = 2</text>
<text transform="translate(710.2,40.3) rotate(90)" font-size="13.6" text-anchor="end">G   -1</text>
<rect x="3.5" y="253.0" width="26" height="18.5" fill="#8B1212" stroke="#30305a" stroke-width="0.8"/><text x="62" y="269.2" font-size="13" text-anchor="end">3.25</text>
<rect x="3.5" y="271.4" width="26" height="18.5" fill="#B01010" stroke="#30305a" stroke-width="0.8"/><text x="62" y="287.4" font-size="13" text-anchor="end">2.25</text>
<rect x="3.5" y="289.9" width="26" height="18.5" fill="#F01010" stroke="#30305a" stroke-width="0.8"/><text x="62" y="305.6" font-size="13" text-anchor="end">1.25</text>
<rect x="3.5" y="308.4" width="26" height="18.5" fill="#FFA010" stroke="#30305a" stroke-width="0.8"/><text x="62" y="323.8" font-size="13" text-anchor="end">0.25</text>
<rect x="3.5" y="326.8" width="26" height="18.5" fill="#F0FF20" stroke="#30305a" stroke-width="0.8"/><text x="70" y="342.0" font-size="12" text-anchor="end">-0.75</text>
<rect x="3.5" y="345.2" width="26" height="18.5" fill="#30F010" stroke="#30305a" stroke-width="0.8"/><text x="70" y="360.2" font-size="12" text-anchor="end">-1.75</text>
<rect x="3.5" y="363.7" width="26" height="18.5" fill="#20B020" stroke="#30305a" stroke-width="0.8"/><text x="70" y="378.4" font-size="12" text-anchor="end">-2.75</text>
<rect x="3.5" y="382.2" width="26" height="18.5" fill="#3A7A3A" stroke="#30305a" stroke-width="0.8"/><text x="70" y="396.6" font-size="12" text-anchor="end">-3.75</text>
<line x1="759.5" y1="41.6" x2="759.5" y2="410.5" stroke="#e9e9f1" stroke-width="1.6"/>
<line x1="793.0" y1="41.6" x2="793.0" y2="410.5" stroke="#e9e9f1" stroke-width="1.6"/>
<line x1="826.6" y1="41.6" x2="826.6" y2="410.5" stroke="#e9e9f1" stroke-width="1.6"/>
<line x1="860.1" y1="41.6" x2="860.1" y2="410.5" stroke="#e9e9f1" stroke-width="1.6"/>
<path d="M726.0 41.6 H894.0 V410.5 H775" fill="none" stroke="#a0a0a8" stroke-width="1.3"/>
<path d="M734.0 410.5 H775" fill="none" stroke="#dcdce0" stroke-width="1.2"/>
<path d="M894.0 56.9 h-3 M894.0 73.0 h-3 M894.0 89.1 h-3 M894.0 105.2 h-3 M894.0 121.3 h-3 M894.0 137.4 h-3 M894.0 153.6 h-3 M894.0 169.7 h-3 M894.0 185.8 h-3 M894.0 201.9 h-3 M894.0 218.0 h-3 M894.0 234.1 h-3 M894.0 250.2 h-3 M894.0 266.3 h-3 M894.0 282.4 h-3 M894.0 298.5 h-3 M894.0 314.7 h-3 M894.0 330.8 h-3 M894.0 346.9 h-3 M894.0 363.0 h-3 M894.0 379.1 h-3 M894.0 395.2 h-3 M726.0 41.6 v2 M732.7 41.6 v2 M739.4 41.6 v2 M746.1 41.6 v2 M752.8 41.6 v2 M759.5 41.6 v2 M766.2 41.6 v2 M772.9 41.6 v2 M779.6 41.6 v2 M779.6 410.5 v-2 M786.3 41.6 v2 M786.3 410.5 v-2 M793.0 41.6 v2 M793.0 410.5 v-2 M799.7 41.6 v2 M799.7 410.5 v-2 M806.4 41.6 v2 M806.4 410.5 v-2 M813.2 41.6 v2 M813.2 410.5 v-2 M819.9 41.6 v2 M819.9 410.5 v-2 M826.6 41.6 v2 M826.6 410.5 v-2 M833.3 41.6 v2 M833.3 410.5 v-2 M840.0 41.6 v2 M840.0 410.5 v-2 M846.7 41.6 v2 M846.7 410.5 v-2 M853.4 41.6 v2 M853.4 410.5 v-2 M860.1 41.6 v2 M860.1 410.5 v-2 M866.8 41.6 v2 M866.8 410.5 v-2 M873.5 41.6 v2 M873.5 410.5 v-2 M880.2 41.6 v2 M880.2 410.5 v-2 M886.9 41.6 v2 M886.9 410.5 v-2 M893.6 41.6 v2 M893.6 410.5 v-2" stroke="#707078" stroke-width="1" fill="none"/>
<path d="M726.0 56.9 H745.3 V73.0 H726.0 M745.3 65.0 H761.2 V89.1 H726.0 M726.0 105.2 H751.3 V121.3 H726.0 M726.0 137.4 H760.8 V153.6 H726.0 M751.3 113.3 H766.0 V145.5 H760.8 M761.2 77.0 H825.4" fill="none" stroke="#9292c6" stroke-width="1.7"/>
<path d="M766.0 129.4 H769.0 V169.7 H726.0 M769.0 149.5 H771.5 V185.8 H726.0 M825.4 77.0 V199.9" fill="none" stroke="#6c6cb8" stroke-width="1.6"/>
<path d="M726.0 218.0 H742.7 V234.1 H726.0 M726.0 201.9 H751.3 V226.1 H742.7 M751.3 214.0 H760.8 V250.2 H726.0 M771.5 167.7 H782.8 V232.1 H760.8 M825.4 199.9 H782.8 M726.0 266.3 H773.8 V282.4 H726.0 M726.0 298.5 H749.2 V314.7 H726.0 M749.2 306.6 H761.0 V330.8 H726.0 M726.0 346.9 H742.6 V363.0 H726.0 M761.0 318.7 H771.2 V354.9 H742.6 M773.8 274.4 H787.0 V336.8 H771.2 M726.0 379.1 H747.5 V395.2 H726.0 M787.0 305.6 H817.7 V387.2 H747.5 M825.4 138.5 H893.0 V346.4 H817.7" fill="none" stroke="#4a4aac" stroke-width="1.6"/>
<text x="792.5" y="428" font-size="12" text-anchor="middle">40</text>
<text x="826" y="428" font-size="12" text-anchor="middle">60</text>
<text x="859.7" y="428" font-size="12" text-anchor="middle">80</text>
<text x="893" y="428" font-size="12" text-anchor="middle">100</text>
<text x="811.4" y="19.3" font-size="12.75" text-anchor="middle">Euclidean distance-</text>
<text x="811.2" y="35.2" font-size="13.2" text-anchor="middle">UPGMA linkage</text>
<line x1="102.9" y1="450.0" x2="738.0" y2="450.0" stroke="#eaeaf1" stroke-width="1.8"/>
<line x1="102.9" y1="490.0" x2="738.0" y2="490.0" stroke="#eaeaf1" stroke-width="1.8"/>
<line x1="102.9" y1="530.0" x2="738.0" y2="530.0" stroke="#eaeaf1" stroke-width="1.8"/>
<line x1="102.9" y1="570.0" x2="738.0" y2="570.0" stroke="#eaeaf1" stroke-width="1.8"/>
<path d="M102.9 610.0 H738.0 V410.0" fill="none" stroke="#74747c" stroke-width="1.5"/>
<path d="M102.9 410.0 V610.7" fill="none" stroke="#3c3c44" stroke-width="1.9"/>
<path d="M102.9 410.0 h2.5 M738.0 410.0 h-2.5 M102.9 418.0 h2.5 M738.0 418.0 h-2.5 M102.9 426.0 h2.5 M738.0 426.0 h-2.5 M102.9 434.0 h2.5 M738.0 434.0 h-2.5 M102.9 442.0 h2.5 M738.0 442.0 h-2.5 M102.9 450.0 h2.5 M738.0 450.0 h-2.5 M102.9 458.0 h2.5 M738.0 458.0 h-2.5 M102.9 466.0 h2.5 M738.0 466.0 h-2.5 M102.9 474.0 h2.5 M738.0 474.0 h-2.5 M102.9 482.0 h2.5 M738.0 482.0 h-2.5 M102.9 490.0 h2.5 M738.0 490.0 h-2.5 M102.9 498.0 h2.5 M738.0 498.0 h-2.5 M102.9 506.0 h2.5 M738.0 506.0 h-2.5 M102.9 514.0 h2.5 M738.0 514.0 h-2.5 M102.9 522.0 h2.5 M738.0 522.0 h-2.5 M102.9 530.0 h2.5 M738.0 530.0 h-2.5 M102.9 538.0 h2.5 M738.0 538.0 h-2.5 M102.9 546.0 h2.5 M738.0 546.0 h-2.5 M102.9 554.0 h2.5 M738.0 554.0 h-2.5 M102.9 562.0 h2.5 M738.0 562.0 h-2.5 M102.9 570.0 h2.5 M738.0 570.0 h-2.5 M102.9 578.0 h2.5 M738.0 578.0 h-2.5 M102.9 586.0 h2.5 M738.0 586.0 h-2.5 M102.9 594.0 h2.5 M738.0 594.0 h-2.5 M102.9 602.0 h2.5 M738.0 602.0 h-2.5 M102.9 610.0 h2.5 M738.0 610.0 h-2.5 M125.0 610.0 v-3 M146.9 610.0 v-3 M168.8 610.0 v-3 M190.8 610.0 v-3 M212.7 610.0 v-3 M234.6 610.0 v-3 M256.5 610.0 v-3 M278.4 610.0 v-3 M300.4 610.0 v-3 M322.3 610.0 v-3 M344.2 610.0 v-3 M366.1 610.0 v-3 M388.0 610.0 v-3 M410.0 610.0 v-3 M431.9 610.0 v-3 M453.8 610.0 v-3 M475.7 610.0 v-3 M497.6 610.0 v-3 M519.6 610.0 v-3 M541.5 610.0 v-3 M563.4 610.0 v-3 M585.3 610.0 v-3 M607.2 610.0 v-3 M629.2 610.0 v-3 M651.1 610.0 v-3 M673.0 610.0 v-3 M694.9 610.0 v-3 M716.8 610.0 v-3" stroke="#707078" stroke-width="1" fill="none"/>
<text x="93.8" y="453.8" font-size="12" text-anchor="end">20</text>
<text x="93.8" y="493.8" font-size="12" text-anchor="end">40</text>
<text x="93.8" y="533.8" font-size="12" text-anchor="end">60</text>
<text x="93.8" y="573.8" font-size="12" text-anchor="end">80</text>
<text x="93.8" y="614.4" font-size="12" text-anchor="end">100</text>
<path d="M125.0 408.5 V456.3 H146.9 V408.5 M168.8 408.5 V433.0 H190.8 V408.5 M234.6 408.5 V434.9 H256.5 V408.5 M212.7 408.5 V452.5 H245.6 V434.9 M179.8 433.0 V461.9 H229.1 V452.5 M278.4 408.5 V431.1 H300.4 V408.5 M344.2 408.5 V436.8 H366.1 V408.5 M322.3 408.5 V441.3 H355.2 V436.8 M289.4 431.1 V452.5 H338.7 V441.3 M204.5 461.9 V477.7 H314.1 V452.5 M136.0 456.3 V480.7 H259.3 V477.7 M388.0 408.5 V434.9 H410.0 V408.5 M399.0 434.9 V438.6 H431.9 V408.5 M453.8 408.5 V428.7 H475.7 V408.5 M464.8 428.7 V433.1 H497.6 V408.5 M519.6 408.5 V437.5 H541.5 V408.5 M481.2 433.1 V450.8 H530.5 V437.5 M415.4 438.6 V464.5 H505.9 V450.8 M563.4 408.5 V439.7 H585.3 V408.5 M574.4 439.7 V447.7 H607.2 V408.5 M590.8 447.7 V449.5 H629.2 V408.5 M673.0 408.5 V436.6 H694.9 V408.5 M684.0 436.6 V443.3 H716.8 V408.5 M651.1 408.5 V461.8 H700.4 V443.3 M610.0 449.5 V478.6 H675.7 V461.8 M460.6 464.5 V532.5 H642.9 V478.6 M197.6 480.7 V609.0 H551.8 V532.5" fill="none" stroke="#4040a8" stroke-width="1.6"/>
<text transform="translate(761.3,516.6) rotate(-90)" font-size="12.75" text-anchor="middle">Euclidean distance-</text>
<text transform="translate(776.7,516.2) rotate(-90)" font-size="13.2" text-anchor="middle">UPGMA linkage</text>
</svg>
</body></html>
